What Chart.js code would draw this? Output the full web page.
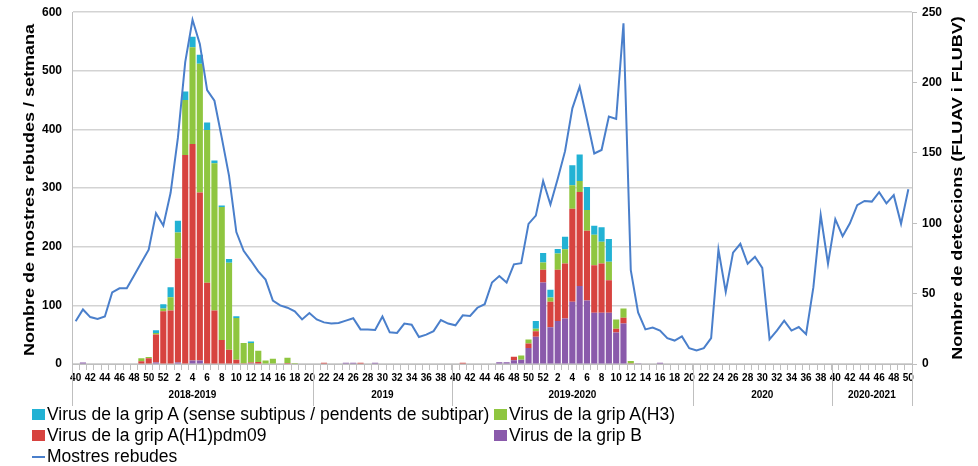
<!DOCTYPE html>
<html>
<head>
<meta charset="utf-8">
<script src="https://cdn.jsdelivr.net/npm/chart.js@4.4.0/dist/chart.umd.min.js"></script>
<style>
  body { margin: 0; background: #fff; }
  #wrap { position: relative; width: 978px; height: 466px; }
  #legend {
    position: absolute; left: 32px; top: 404px;
    display: grid; grid-template-columns: 462px 300px; grid-auto-rows: 21px;
    font-family: 'Liberation Sans', Arial, sans-serif; font-size: 17.5px; color: #000;
  }
  .item { display: flex; align-items: center; white-space: nowrap; }
  .box { display: inline-block; width: 13px; height: 11px; margin-right: 2px; }
  .line { display: inline-block; width: 13px; height: 2px; margin-right: 2px; }
</style>
</head>
<body>
<div id="wrap">
  <canvas id="chart" width="978" height="466"></canvas>
  <div id="legend"></div>
</div>
<script>
// CATEGORIES: ISO weeks, 40/2018 .. 50/2020
const weeks = [
  40, 41, 42, 43, 44, 45, 46, 47, 48, 49, 50, 51, 52,
  1, 2, 3, 4, 5, 6, 7, 8, 9, 10, 11, 12, 13, 14, 15, 16, 17, 18, 19, 20,
  21, 22, 23, 24, 25, 26, 27, 28, 29, 30, 31, 32, 33, 34, 35, 36, 37, 38, 39,
  40, 41, 42, 43, 44, 45, 46, 47, 48, 49, 50, 51, 52,
  1, 2, 3, 4, 5, 6, 7, 8, 9, 10, 11, 12, 13, 14, 15, 16, 17, 18, 19, 20,
  21, 22, 23, 24, 25, 26, 27, 28, 29, 30, 31, 32, 33, 34, 35, 36, 37, 38, 39,
  40, 41, 42, 43, 44, 45, 46, 47, 48, 49, 50
];

// season groups under the axis (first category index of each)
const seasonLabels = ["2018-2019", "2019", "2019-2020", "2020", "2020-2021"];
const seasonStart = [0, 33, 52, 85, 104];

const leftTitle = "Nombre de mostres rebudes / setmana";
const rightTitle = "Nombre de deteccions (FLUAV i FLUBV)";

// SAMPLES RECEIVED (left axis)
const samples2018 = [73, 93, 80, 77, 81, 122, 129, 129, 151, 173, 195, 257, 236];
const samples2019 = [
  292, 386, 515, 587, 546, 467, 449, 386, 321, 225,
  193, 176, 158, 144, 108, 100, 96, 90, 76, 87,
  76, 71, 69, 70, 74, 78, 59, 59, 58, 81,
  54, 53, 69, 67, 46, 50, 56, 75, 69, 66,
  83, 82, 96, 102, 139, 150, 139, 170, 172, 239,
  253, 312
];
const samples2020 = [
  272, 316, 363, 436, 473, 417, 359, 365, 422, 418,
  581, 160, 88, 59, 62, 57, 44, 40, 47, 27,
  23, 27, 44, 195, 123, 190, 205, 171, 183, 164,
  42, 57, 74, 57, 63, 51, 131, 254, 171, 247,
  218, 240, 271, 278, 277, 293, 274, 288, 239, 298
];
const samples = samples2018.concat(samples2019, samples2020);

// DETECTIONS (right axis)
const fluB = [
  0, 1, 0, 0, 0, 0, 0, 0, 0, 0, 0, 1, 0,
  0, 1, 0, 2.4, 2.4, 0, 0, 0, 0, 0,
  0, 0.5, 0, 0, 0, 0, 0, 0, 0, 0,
  0, 0, 0, 0, 0.8, 0.8, 0, 0, 0.8, 0,
  0, 0, 0, 0, 0, 0, 0, 0, 0, 0,
  0, 0, 0, 0, 0, 1.2, 1.2, 2.6, 3, 11.4,
  19.3, 57.9,
  26.2, 30.5, 32.4, 44.3, 55.5, 45.2, 36.4, 36.4, 36.4, 22.3,
  28.7, 0, 0.6, 0, 0, 0.8, 0, 0, 0, 0,
  0, 0, 0, 0, 0, 0, 0, 0, 0, 0,
  0, 0, 0, 0, 0, 0, 0, 0, 0, 0,
  0, 0, 0, 0, 0, 0, 0, 0, 0, 0
];
const fluH1 = [
  0, 0, 0, 0, 0, 0, 0, 0, 0, 2, 4, 20, 37.5,
  38, 74, 148.6, 154, 119.4, 57.7, 38, 17, 10.2, 3,
  0.5, 0.5, 1.4, 0, 0, 0, 0.7, 0, 0, 0,
  0, 0.8, 0, 0, 0, 0, 0.8, 0, 0, 0,
  0, 0, 0, 0, 0, 0, 0, 0, 0, 0,
  0.8, 0, 0, 0, 0, 0, 0, 2.6, 0, 3.1,
  4, 9,
  18.1, 36.4, 39, 66, 66.7, 49.5, 33.8, 35, 23.1, 2.8,
  4.2, 0.5, 0, 0, 0, 0, 0, 0, 0, 0,
  0, 0, 0, 0, 0, 0, 0, 0, 0, 0,
  0, 0, 0, 0, 0, 0, 0, 0, 0, 0,
  0, 0, 0, 0, 0, 0, 0, 0, 0, 0
];
const fluH3 = [
  0, 0, 0, 0, 0, 0, 0, 0, 0, 2, 1, 1, 2,
  9.5, 18.5, 39, 68.7, 91.5, 108.5, 104.7, 94.6, 61.7, 29.7,
  14.5, 14, 8, 2.4, 3.8, 0, 3.8, 0.7, 0, 0,
  0, 0, 0, 0, 0, 0, 0, 0, 0, 0,
  0, 0, 0, 0, 0, 0, 0, 0, 0, 0,
  0, 0, 0, 0, 0, 0, 0, 0, 3.1, 2.9,
  1.7, 5.2,
  2.9, 11.7, 10.2, 16.7, 7.9, 14.8, 21.7, 15.5, 13.1, 6.5,
  6.5, 1.6, 0, 0, 0, 0, 0, 0, 0, 0,
  0, 0, 0, 0, 0, 0, 0, 0, 0, 0,
  0, 0, 0, 0, 0, 0, 0, 0, 0, 0,
  0, 0, 0, 0, 0, 0, 0, 0, 0, 0
];
const fluA = [
  0, 0, 0, 0, 0, 0, 0, 0, 0, 0, 0, 2, 3,
  7, 8.3, 6, 7.4, 6.4, 5.5, 2, 1, 2.8, 1.2,
  0, 1, 0, 0, 0, 0, 0, 0, 0, 0,
  0, 0, 0, 0, 0, 0, 0, 0, 0, 0,
  0, 0, 0, 0, 0, 0, 0, 0, 0, 0,
  0, 0, 0, 0, 0, 0, 0, 0, 0, 0,
  5.5, 6.7,
  5.5, 3.1, 8.8, 14.3, 18.8, 16.2, 6.4, 10.2, 16.2, 0,
  0, 0, 0, 0, 0, 0, 0, 0, 0, 0,
  0, 0, 0, 0, 0, 0, 0, 0, 0, 0,
  0, 0, 0, 0, 0, 0, 0, 0, 0, 0,
  0, 0, 0, 0, 0, 0, 0, 0, 0, 0
];

const FONT = "'Liberation Sans', Arial, sans-serif";
Chart.defaults.font.family = FONT;
Chart.defaults.color = "#000";

function bar(label, data, color) {
  return {
    type: "bar", label, data, yAxisID: "y1", order: 1,
    backgroundColor: color, borderWidth: 0,
    barPercentage: 0.84, categoryPercentage: 1
  };
}

// rotated axis title, stretched along its length like the original
function axisTitle(ctx, text, cx, cy) {
  ctx.save();
  ctx.translate(cx, cy);
  ctx.rotate(-Math.PI / 2);
  ctx.scale(1.2, 1);
  ctx.font = "bold 15px " + FONT;
  ctx.fillStyle = "#000";
  ctx.textAlign = "center";
  ctx.textBaseline = "middle";
  ctx.fillText(text, 0, 0);
  ctx.restore();
}

// season separators + labels, axis titles
const seasons = {
  id: "seasons",
  afterDraw(chart) {
    const { ctx, chartArea, scales: { x } } = chart;
    const step = x.width / weeks.length;
    const bottom = chartArea.bottom;
    ctx.save();
    ctx.strokeStyle = "#bfbfbf";
    ctx.lineWidth = 1;
    ctx.font = "bold 10px " + FONT;
    ctx.fillStyle = "#000";
    ctx.textAlign = "center";
    ctx.textBaseline = "middle";
    seasonStart.forEach((s, i) => {
      const end = i + 1 < seasonStart.length ? seasonStart[i + 1] : weeks.length;
      const x0 = x.getPixelForValue(s) - step / 2;
      const x1 = x.getPixelForValue(end - 1) + step / 2;
      [x0, x1].forEach(px => {
        ctx.beginPath();
        ctx.moveTo(Math.round(px) + 0.5, bottom);
        ctx.lineTo(Math.round(px) + 0.5, bottom + 42);
        ctx.stroke();
      });
      ctx.fillText(seasonLabels[i], (x0 + x1) / 2, bottom + 31);
    });
    ctx.restore();
    axisTitle(ctx, leftTitle, 30, 190);
    axisTitle(ctx, rightTitle, 958, 188);
  }
};

const chart = new Chart(document.getElementById("chart"), {
  data: {
    labels: weeks,
    datasets: [
      bar("Virus de la grip B", fluB, "#8a5aab"),
      bar("Virus de la grip A(H1)pdm09", fluH1, "#d7433f"),
      bar("Virus de la grip A(H3)", fluH3, "#8fc640"),
      bar("Virus de la grip A (sense subtipus / pendents de subtipar)", fluA, "#22b2d4"),
      {
        type: "line", label: "Mostres rebudes", data: samples, yAxisID: "y", order: 0,
        borderColor: "#4a7fcb", borderWidth: 2, pointRadius: 0, tension: 0, fill: false
      }
    ]
  },
  options: {
    responsive: false,
    animation: false,
    layout: { padding: { top: 12, left: 0, right: 0, bottom: 0 } },
    plugins: { legend: { display: false }, tooltip: { enabled: false } },
    scales: {
      x: {
        stacked: true,
        offset: true,
        grid: { offset: true, drawOnChartArea: false, tickLength: 6, color: "#bfbfbf" },
        border: { color: "#bfbfbf" },
        ticks: {
          autoSkip: false, maxRotation: 0, padding: 2,
          font: { size: 10, weight: "bold" },
          callback: (v, i) => (weeks[i] % 2 === 0 ? String(weeks[i]) : "")
        },
        afterFit: s => { s.height = 102; }
      },
      y: {
        position: "left", min: 0, max: 600,
        ticks: { stepSize: 100, padding: 5, font: { size: 12, weight: "bold" } },
        grid: { color: "#d3d3d3", lineWidth: 1.5, tickLength: 5, tickColor: "rgba(0,0,0,0)" },
        border: { color: "#bfbfbf" },
        afterFit: s => { s.width = 72; }
      },
      y1: {
        position: "right", min: 0, max: 250, stacked: true,
        ticks: { stepSize: 50, padding: 5, font: { size: 12, weight: "bold" } },
        grid: { drawOnChartArea: false, tickLength: 5, color: "#bfbfbf" },
        border: { color: "#bfbfbf" },
        afterFit: s => { s.width = 66; }
      }
    }
  },
  plugins: [seasons]
});

// LEGEND (two-column grid like the original)
const legendOrder = [3, 2, 1, 0, 4];
document.getElementById("legend").innerHTML = legendOrder.map(i => {
  const d = chart.data.datasets[i];
  const mark = d.type === "line"
    ? `<span class="line" style="background:${d.borderColor}"></span>`
    : `<span class="box" style="background:${d.backgroundColor}"></span>`;
  return `<div class="item">${mark}<span>${d.label}</span></div>`;
}).join("");
</script>
</body>
</html>
